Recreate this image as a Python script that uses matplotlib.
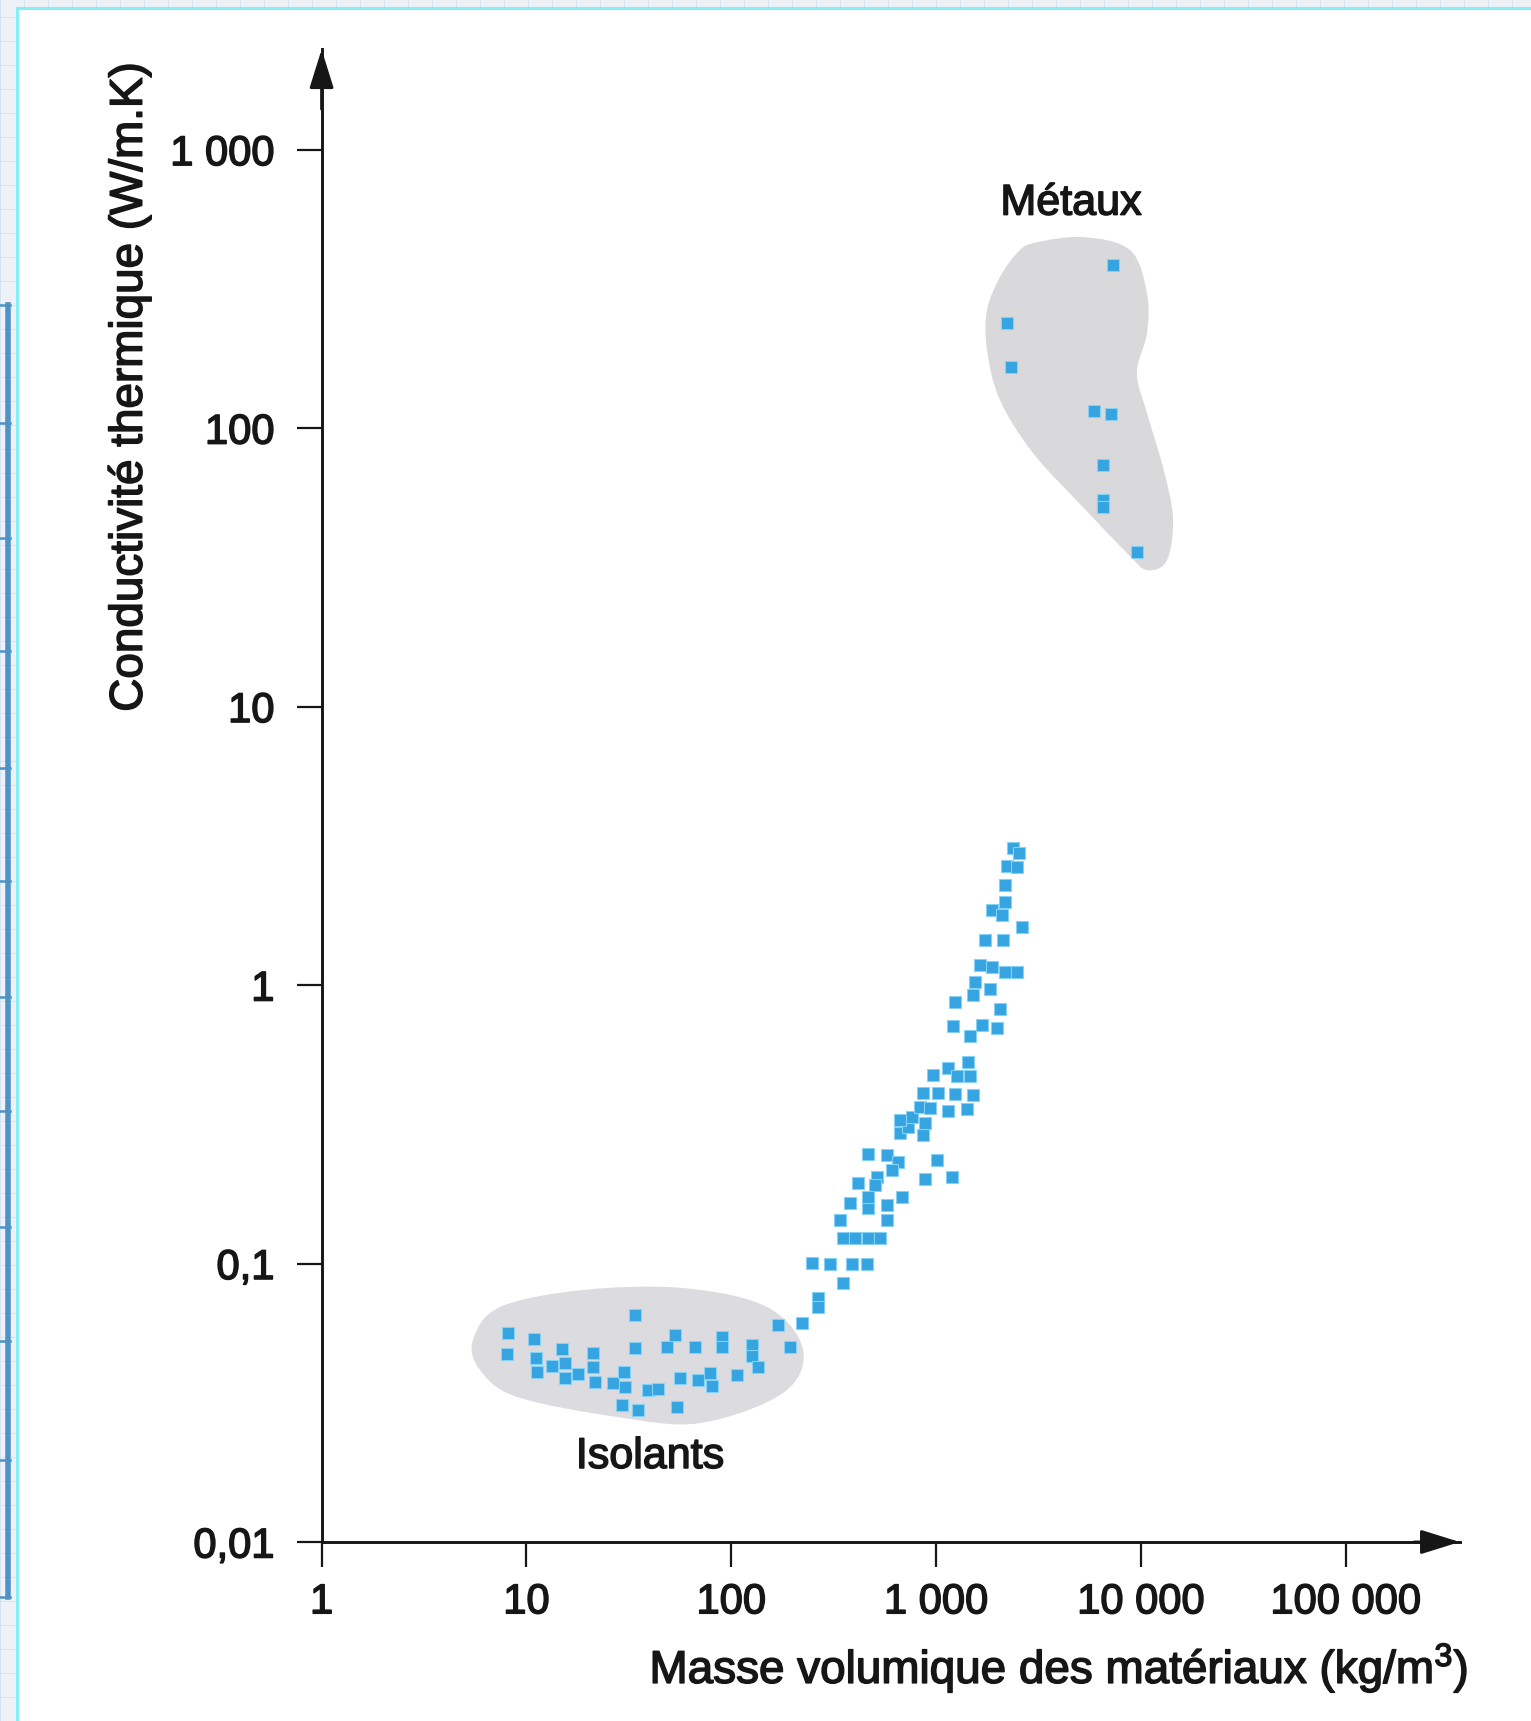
import numpy as np
import matplotlib
matplotlib.use('Agg')
import matplotlib.pyplot as plt
import matplotlib.patheffects as pe
from matplotlib.path import Path
from matplotlib.patches import PathPatch, Rectangle
from matplotlib.lines import Line2D

plt.rcParams['font.family'] = ['Liberation Sans', 'DejaVu Sans']
plt.rcParams['mathtext.fontset'] = 'custom'
plt.rcParams['mathtext.rm'] = 'Liberation Sans'
plt.rcParams['mathtext.it'] = 'Liberation Sans:italic'
plt.rcParams['mathtext.bf'] = 'Liberation Sans:bold'

# --- data (density kg/m3, conductivity W/m.K) ---
iso_rho = [8.1, 8.0, 10.9, 11.1, 11.3, 13.3, 14.9, 15.4, 15.4, 17.9,
           21.1, 21.1, 21.6, 26.5, 30.0, 30.3, 29.3, 35.1, 33.9, 33.9,
           39.2, 43.9, 48.6, 53.2, 56.3, 54.4, 66.6, 68.9, 78.8, 80.5,
           90.2, 90.2, 107, 126, 126, 135]
iso_k = [0.0562, 0.0473, 0.0536, 0.0458, 0.0407, 0.0428, 0.0493, 0.0439, 0.0388, 0.0401,
         0.0477, 0.0425, 0.0376, 0.0372, 0.0407, 0.0360, 0.0310, 0.0298, 0.0653, 0.0498,
         0.0351, 0.0354, 0.0501, 0.0553, 0.0388, 0.0306, 0.0501, 0.0382, 0.0405, 0.0363,
         0.0544, 0.0501, 0.0398, 0.0509, 0.0466, 0.0425]

mat_rho = [169, 194, 222, 265, 265, 248, 304, 389, 460, 352,
           340, 576, 352, 402, 466, 533, 380, 466, 576, 416,
           515, 504, 466, 682, 466, 576, 652, 610, 1011, 884,
           1197, 667, 865, 730, 884, 764, 667, 836, 935, 1145,
           1417, 865, 1023, 1239, 1517, 967, 1145, 1266, 1466, 1432,
           1210, 1678, 1986, 1466, 1239, 1517, 1836, 2055, 1550, 1641,
           1876, 2173, 2483, 1734, 2125, 2630, 1876, 2100, 2173, 2173,
           2228, 2483, 2378, 2540]
mat_k = [0.0601, 0.0501, 0.0611, 0.0751, 0.0698, 0.1005, 0.100, 0.100, 0.100, 0.0851,
         0.143, 0.143, 0.124, 0.124, 0.124, 0.124, 0.165, 0.158, 0.162, 0.195,
         0.205, 0.191, 0.173, 0.173, 0.247, 0.246, 0.231, 0.217, 0.236, 0.201,
         0.205, 0.294, 0.289, 0.309, 0.319, 0.336, 0.327, 0.365, 0.361, 0.353,
         0.359, 0.409, 0.409, 0.406, 0.402, 0.475, 0.503, 0.471, 0.471, 0.530,
         0.713, 0.718, 0.702, 0.656, 0.869, 0.920, 0.968, 0.821, 1.025, 1.18,
         1.16, 1.11, 1.11, 1.45, 1.45, 1.61, 1.86, 1.78, 1.99, 2.29,
         2.67, 2.65, 3.10, 2.98]

met_rho = [7313, 2228, 2326, 5906, 7148, 6535, 6535, 6535, 9577]
met_k = [385, 238, 166, 115, 112, 73.6, 55.1, 52.0, 35.9]

# outlines of the grey zones, in decades (log10 rho, log10 k)
metaux_lx = [3.474, 3.718, 3.948, 4.030, 4.030, 3.981, 4.030, 4.108, 4.157, 4.128,
             4.030, 3.933, 3.718, 3.474, 3.312, 3.249, 3.249, 3.312, 3.395]
metaux_ly = [2.664, 2.686, 2.639, 2.485, 2.341, 2.198, 2.054, 1.860, 1.680, 1.526,
             1.490, 1.551, 1.716, 1.910, 2.101, 2.280, 2.424, 2.542, 2.628]
isol_lx = [0.739, 0.871, 1.276, 1.765, 2.175, 2.351, 2.253, 1.848, 1.442, 0.954, 0.773]
isol_ly = [-1.275, -1.156, -1.095, -1.088, -1.156, -1.311, -1.465, -1.573, -1.551, -1.479, -1.382]

x_ticks = [1, 10, 100, 1000, 10000, 100000]
x_labels = ['1', '10', '100', '1 000', '10 000', '100 000']
y_ticks = [0.01, 0.1, 1, 10, 100, 1000]
y_labels = ['0,01', '0,1', '1', '10', '100', '1 000']


def blob(lx, ly):
    # closed smooth curve (Catmull-Rom as cubic Bezier) through the outline
    P = np.column_stack([lx, ly])
    n = len(P)
    verts = [P[0]]
    codes = [Path.MOVETO]
    for i in range(n):
        p0, p1, p2, p3 = P[i - 1], P[i], P[(i + 1) % n], P[(i + 2) % n]
        verts += [p1 + (p2 - p0) / 6, p2 - (p3 - p1) / 6, p2]
        codes += [Path.CURVE4] * 3
    return Path(10 ** np.array(verts), codes)


W, H = 1531, 1721
fig = plt.figure(figsize=(W / 100, H / 100), dpi=100)
fig.patch.set_facecolor('#eef2f6')

# page background (grid paper, frame, blue boxes on the left)
for gx in range(0, W, 24):
    fig.add_artist(Line2D([gx / W, gx / W], [0, 1], color='#d3e4f1', lw=0.7, zorder=-3))
for gy in range(0, H, 24):
    fig.add_artist(Line2D([0, 1], [gy / H, gy / H], color='#d3e4f1', lw=0.7, zorder=-3))
fig.add_artist(Rectangle((17 / W, -0.01), 1, 1 - 8 / H + 0.01, facecolor='white',
                         edgecolor='#86eef5', lw=2.2, zorder=-2))
fig.add_artist(Line2D([7.5 / W, 7.5 / W], [1 - 305 / H, 1 - 1597 / H], color='#4f92c6', lw=4, zorder=-1))
for by in [305, 423, 538, 651, 768, 881, 997, 1111, 1227, 1341, 1460, 1597]:
    fig.add_artist(Line2D([0, 10 / W], [1 - by / H, 1 - by / H], color='#4f92c6', lw=1.8, zorder=-1))

ax = fig.add_axes([321.6 / W, 1 - 1542 / H, (1459.7 - 321.6) / W, (1542 - 49.4) / H])
ax.set_zorder(5)
ax.set_facecolor('none')
ax.set_xscale('log')
ax.set_yscale('log')
ax.set_xlim(1, 10 ** 5.557)
ax.set_ylim(0.01, 10 ** 3.36)

ink = '#161616'
heavy = [pe.withStroke(linewidth=1.1, foreground=ink)]

ax.add_patch(PathPatch(blob(isol_lx, isol_ly), facecolor='#dcdce0', edgecolor='none', zorder=1))
ax.add_patch(PathPatch(blob(metaux_lx, metaux_ly), facecolor='#d9d9dc', edgecolor='none', zorder=1))

sq = dict(marker='s', ls='none', ms=8.3, mfc='#35a4e0', mec='#86d2f4', mew=0.8, zorder=3)
ax.plot(iso_rho, iso_k, **sq)
ax.plot(mat_rho, mat_k, **sq)
ax.plot(met_rho, met_k, **sq)

ax.text(4560, 640, 'Métaux', fontsize=31, color=ink, ha='center', va='center', path_effects=heavy)
ax.text(40.1, 0.0202, 'Isolants', fontsize=31, color=ink, ha='center', va='center', path_effects=heavy)

for s in ['top', 'right']:
    ax.spines[s].set_visible(False)
for s in ['left', 'bottom']:
    ax.spines[s].set_linewidth(2.1)
    ax.spines[s].set_color(ink)

ax.set_xticks(x_ticks)
ax.set_xticklabels(x_labels)
ax.set_yticks(y_ticks)
ax.set_yticklabels(y_labels)
ax.minorticks_off()
ax.tick_params(axis='both', direction='out', length=18, width=1.6, color=ink,
               labelsize=30, labelcolor=ink)
ax.tick_params(axis='y', pad=16)
ax.tick_params(axis='x', pad=11)
for lbl in ax.get_xticklabels() + ax.get_yticklabels():
    lbl.set_path_effects(heavy)

ax.annotate('', xy=(0, 1), xytext=(0, 0.96), xycoords='axes fraction',
            arrowprops=dict(arrowstyle='-|>,head_length=2.4,head_width=0.75', lw=2.1,
                            color=ink, shrinkA=0, shrinkB=0, mutation_scale=10))
ax.annotate('', xy=(1, 0), xytext=(0.96, 0), xycoords='axes fraction',
            arrowprops=dict(arrowstyle='-|>,head_length=2.4,head_width=0.75', lw=2.1,
                            color=ink, shrinkA=0, shrinkB=0, mutation_scale=10))

ax.set_ylabel('Conductivité thermique (W/m.K)', fontsize=33, color=ink, path_effects=heavy)
ax.yaxis.set_label_coords(-0.1688, 0.774)
ax.yaxis.label.set_va('center')
ax.set_xlabel('Masse volumique des matériaux (kg/m$^3$)', fontsize=33, color=ink, path_effects=heavy)
ax.xaxis.set_label_coords(0.648, -0.0844)
ax.xaxis.label.set_va('center')

fig.savefig('out.png', dpi=100, facecolor=fig.get_facecolor())
